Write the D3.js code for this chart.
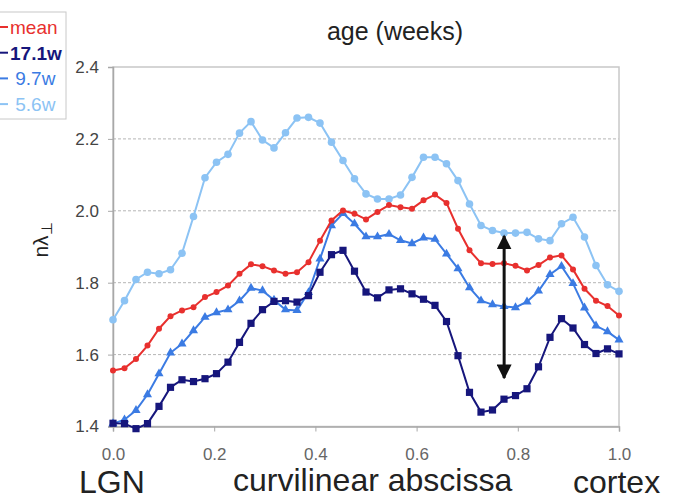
<!DOCTYPE html>
<html>
<head>
<meta charset="utf-8">
<script src="https://cdn.jsdelivr.net/npm/d3@7"></script>
<style>
  body { margin: 0; background: white; }
  text { font-family: "Liberation Sans", Arial, sans-serif; }
</style>
</head>
<body>
<div id="vis"></div>
<script>
// values, 45 samples along the tract
const nPoints = 45;
const xs = d3.range(nPoints).map(i => i / (nPoints - 1));

const mean = [1.556,1.562,1.588,1.625,1.672,1.707,1.723,1.732,1.760,1.774,1.792,1.825,1.851,1.846,1.834,
  1.825,1.829,1.857,1.917,1.973,2.001,1.992,1.976,1.997,2.016,2.010,2.006,2.029,2.045,2.022,
  1.950,1.890,1.854,1.852,1.854,1.847,1.834,1.849,1.870,1.876,1.837,1.783,1.750,1.735,1.709];
const w17 = [1.409,1.408,1.394,1.408,1.456,1.509,1.530,1.525,1.533,1.547,1.579,1.634,1.687,1.725,1.748,
  1.750,1.746,1.764,1.829,1.878,1.890,1.832,1.774,1.758,1.780,1.783,1.769,1.754,1.737,1.692,
  1.597,1.495,1.440,1.446,1.476,1.486,1.505,1.566,1.648,1.700,1.674,1.628,1.603,1.616,1.602];
const w97 = [1.408,1.419,1.445,1.489,1.547,1.605,1.630,1.667,1.704,1.717,1.725,1.750,1.785,1.778,1.752,
  1.725,1.723,1.773,1.866,1.959,1.993,1.964,1.928,1.928,1.935,1.918,1.909,1.925,1.921,1.880,
  1.839,1.786,1.750,1.739,1.734,1.731,1.747,1.777,1.823,1.846,1.798,1.730,1.680,1.664,1.641];
const w56 = [1.697,1.750,1.809,1.829,1.825,1.836,1.882,1.984,2.092,2.135,2.157,2.216,2.248,2.197,2.175,
  2.217,2.258,2.260,2.244,2.191,2.140,2.089,2.047,2.033,2.033,2.044,2.093,2.149,2.149,2.131,
  2.084,2.019,1.959,1.945,1.938,1.938,1.940,1.922,1.917,1.964,1.982,1.927,1.848,1.794,1.776];

const legendLabels = ["mean", "17.1w", " 9.7w", " 5.6w"];
const xTicks = [0, 0.2, 0.4, 0.6, 0.8, 1.0];
const yTicks = [1.4, 1.6, 1.8, 2.0, 2.2, 2.4];
const arrowX = 0.773, arrowFrom = 1.535, arrowTo = 1.930;

const series = [
  { name: "mean", values: mean, color: "#e8302e", shape: "circle", size: 3 },
  { name: "17.1w", values: w17, color: "#16167c", shape: "square", size: 3.6 },
  { name: "9.7w", values: w97, color: "#3b7be3", shape: "triangle", size: 4 },
  { name: "5.6w", values: w56, color: "#8cc3f4", shape: "circle", size: 3.8 }
];

const W = 678, H = 499;
const mLeft = 113, mRight = 619, mTop = 67, mBottom = 426.5;

let svg = d3.select('#vis')
  .append('svg')
  .attr('width', W)
  .attr('height', H)
  .style('background-color', 'white');

let x = d3.scaleLinear().domain([0, 1]).range([mLeft, mRight]);
let y = d3.scaleLinear().domain([1.4, 2.4]).range([mBottom, mTop]);

// dashed grid
svg.append('g')
  .selectAll('line')
  .data(yTicks.filter(v => v > 1.41 && v < 2.39))
  .join('line')
  .attr('x1', mLeft).attr('x2', mRight)
  .attr('y1', d => y(d)).attr('y2', d => y(d))
  .attr('stroke', '#b5b5b5')
  .attr('stroke-dasharray', '3,2');

// frame
svg.append('rect')
  .attr('x', mLeft).attr('y', mTop)
  .attr('width', mRight - mLeft).attr('height', mBottom - mTop)
  .attr('fill', 'none')
  .attr('stroke', '#c8c8c8')
  .attr('stroke-width', 1.5);

// axes
let yAxis = svg.append('g')
  .attr('transform', `translate(${mLeft},0)`)
  .call(d3.axisLeft(y).tickValues(yTicks).tickFormat(d3.format('.1f')).tickSize(5).tickPadding(9));
yAxis.select('.domain').attr('stroke', '#a8a8a8').attr('stroke-width', 1.5);
yAxis.selectAll('.tick line').attr('stroke', '#a8a8a8');
yAxis.selectAll('.tick text').attr('fill', '#444').style('font-size', '17px')
  .style('font-family', '"Liberation Sans", Arial, sans-serif');

let xAxis = svg.append('g')
  .attr('transform', `translate(0,${mBottom})`)
  .call(d3.axisBottom(x).tickValues(xTicks).tickFormat(d3.format('.1f')).tickSize(5).tickPadding(16));
xAxis.select('.domain').attr('stroke', '#a8a8a8').attr('stroke-width', 1.5);
xAxis.selectAll('.tick line').attr('stroke', '#a8a8a8');
xAxis.selectAll('.tick text').attr('fill', '#666').style('font-size', '17px')
  .style('font-family', '"Liberation Sans", Arial, sans-serif');

// lines and markers
let line = d3.line().x((d, i) => x(xs[i])).y(d => y(d));

series.slice().reverse().forEach(s => {
  let g = svg.append('g');
  g.append('path')
    .datum(s.values)
    .attr('d', line)
    .attr('fill', 'none')
    .attr('stroke', s.color)
    .attr('stroke-width', 2);

  let pts = g.selectAll('.pt')
    .data(s.values)
    .join('path')
    .attr('transform', (d, i) => `translate(${x(xs[i])},${y(d)})`)
    .attr('fill', s.color);
  if (s.shape === 'square') {
    pts.attr('d', d3.symbol(d3.symbolSquare, (2 * s.size) ** 2));
  } else if (s.shape === 'triangle') {
    pts.attr('d', d3.symbol(d3.symbolTriangle, 36));
  } else {
    pts.attr('d', d3.symbol(d3.symbolCircle, Math.PI * s.size * s.size));
  }
});

// double arrow
let defs = svg.append('defs');
defs.append('marker')
  .attr('id', 'head')
  .attr('viewBox', '0 0 10 10')
  .attr('refX', 9).attr('refY', 5)
  .attr('markerWidth', 5).attr('markerHeight', 5)
  .attr('markerUnits', 'strokeWidth')
  .attr('orient', 'auto-start-reverse')
  .append('path')
  .attr('d', 'M0,0 L10,5 L0,10 z')
  .attr('fill', '#111');

svg.append('line')
  .attr('x1', x(arrowX)).attr('x2', x(arrowX))
  .attr('y1', y(arrowFrom)).attr('y2', y(arrowTo))
  .attr('stroke', '#111')
  .attr('stroke-width', 3)
  .attr('marker-start', 'url(#head)')
  .attr('marker-end', 'url(#head)');

// title
svg.append('text')
  .attr('x', 395).attr('y', 40)
  .attr('text-anchor', 'middle')
  .style('font-size', '25px')
  .attr('fill', '#222')
  .text('age (weeks)');

// y label
let yl = svg.append('text')
  .attr('transform', 'translate(48,240) rotate(-90)')
  .attr('text-anchor', 'middle')
  .style('font-size', '21px')
  .attr('fill', '#222');
yl.append('tspan').text('nλ');
yl.append('tspan').attr('dy', 4).style('font-size', '15px').text('⊥');

// bottom labels
svg.append('text').attr('x', 79).attr('y', 493).style('font-size', '32px').attr('fill', '#222').text('LGN');
svg.append('text').attr('x', 233).attr('y', 491).style('font-size', '32px').attr('fill', '#222').text('curvilinear abscissa');
svg.append('text').attr('x', 573).attr('y', 493).style('font-size', '32px').attr('fill', '#222').text('cortex');

// legend, cut at the left edge
svg.append('rect')
  .attr('x', -20).attr('y', 12)
  .attr('width', 86).attr('height', 107)
  .attr('fill', 'white')
  .attr('stroke', '#c8c8c8');

let legendColors = [series[0].color, series[1].color, series[2].color, series[3].color];
let leg = svg.append('g').selectAll('g')
  .data(legendLabels)
  .join('g')
  .attr('transform', (d, i) => `translate(0,${27 + i * 25.7})`);
leg.append('line')
  .attr('x1', -10).attr('x2', 8)
  .attr('stroke', (d, i) => legendColors[i])
  .attr('stroke-width', 2);
leg.append('text')
  .attr('x', 10).attr('y', 7)
  .attr('xml:space', 'preserve')
  .style('font-size', '19px')
  .style('font-weight', (d, i) => i === 1 ? 'bold' : 'normal')
  .attr('fill', (d, i) => legendColors[i])
  .text(d => d);
</script>
</body>
</html>
